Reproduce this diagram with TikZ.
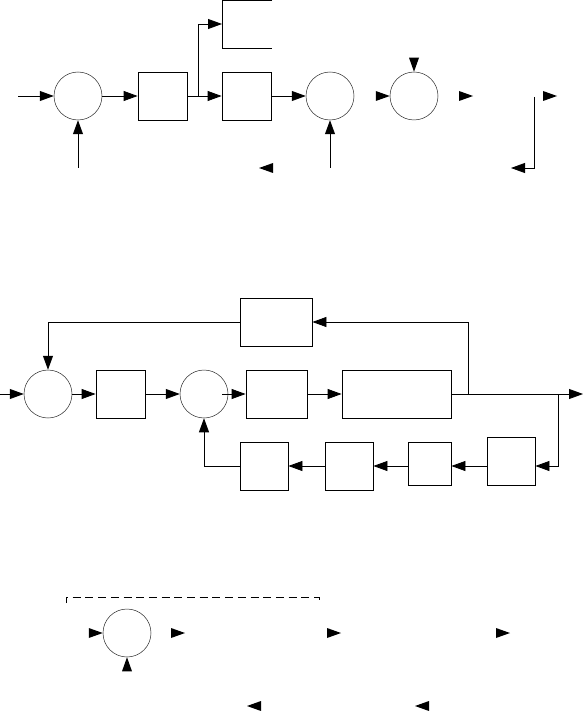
\documentclass[tikz,border=0pt]{standalone}
\usetikzlibrary{arrows.meta,calc}
\begin{document}
\begin{tikzpicture}[x=1pt,y=-1pt, line width=0.8pt,
  box/.style={draw, rectangle, inner sep=0pt},
  sum/.style={draw=black!85, circle, inner sep=0pt, minimum size=48pt, line width=0.5pt},
  arr/.style={-{Triangle[length=14pt,width=10pt]}},
  arrowtip/.pic={\fill (0,0) -- (-14,5) -- (-14,-5) -- cycle;}]
\useasboundingbox (0,0) rectangle (584,711);
% ---------- top ----------
\node[sum] (s1) at (78,96) {};
\node[box, minimum width=49pt, minimum height=48pt] (b1) at (162.5,96) {};
\node[box, minimum width=49pt, minimum height=48pt] (b2) at (246.5,96) {};
\draw (272,0) -- (222,0) -- (222,48) -- (272,48);
\coordinate (b3w) at (222,24);
\node[sum] (s2) at (330,96) {};
\node[sum] (s3) at (414,96) {};
\coordinate (in1) at (18,96);
\coordinate (u1) at (78,168);
\coordinate (u2) at (330,168);
\coordinate (br) at (198,96);
\draw[arr] (in1) -- (s1);
\draw[arr] (u1) -- (s1);
\draw[arr] (s1) -- (b1);
\draw[arr] (b1) -- (b2);
\draw[arr] (br) |- (b3w);
\draw[arr] (b2) -- (s2);
\draw[arr] (u2) -- (s2);
\pic at (s3.west) {arrowtip};
\pic[rotate=-90] at (s3.north) {arrowtip};
\pic at (473,96) {arrowtip};
\pic at (557,96) {arrowtip};
\pic[rotate=180] at (259,168) {arrowtip};
\coordinate (v1) at (534,97);
\coordinate (v2) at (511,168);
\draw[arr] (v1) |- (v2);
% ---------- middle ----------
\node[sum] (A) at (48,394) {};
\node[box, minimum width=49pt, minimum height=48pt] (B) at (120.5,394) {};
\node[sum] (C) at (204,394) {};
\node[box, minimum width=61pt, minimum height=48pt] (D) at (276.5,394) {};
\node[box, minimum width=109pt, minimum height=48pt] (E) at (396.5,394) {};
\node[box, minimum width=72pt, minimum height=48pt] (F) at (276,322) {};
\node[box, minimum size=48pt] (G) at (511,461) {};
\node[box, minimum size=43pt] (H) at (429.5,463.5) {};
\node[box, minimum size=48pt] (I) at (349,466) {};
\node[box, minimum size=48pt] (J) at (264,466) {};
\coordinate (in2) at (0,394);
\coordinate (out2) at (583,394);
\coordinate (t1) at (468,394);
\coordinate (t2) at (558,394);
\coordinate (row) at (0,466);
\draw[arr] (in2) -- (A);
\draw[arr] (A) -- (B);
\draw[arr] (B) -- (C);
\draw[arr] ($(C.east)+(-6,0)$) -- (D);
\draw[arr] (D) -- (E);
\draw[arr] (E) -- (out2);
\draw[arr] (t1) |- (F);
\draw[arr] (F.west) -| (A.north);
\draw[arr] (t2) |- (G.east |- row);
\draw[arr] (G.west |- row) -- (H.east |- row);
\draw[arr] (H.west |- row) -- (I);
\draw[arr] (I) -- (J);
\draw[arr] (J) -| (C);
% ---------- bottom ----------
\draw[line width=0.6pt, dash pattern=on 8pt off 4.7pt] (66,603) -- (66,597) -- (319,597) -- (319,603);
\node[sum] (s4) at (127,633) {};
\pic at (s4.west) {arrowtip};
\pic[rotate=90] at (s4.south) {arrowtip};
\pic at (185,633) {arrowtip};
\pic at (341,633) {arrowtip};
\pic at (510,633) {arrowtip};
\pic[rotate=180] at (247,706) {arrowtip};
\pic[rotate=180] at (415,706) {arrowtip};
\end{tikzpicture}
\end{document}
